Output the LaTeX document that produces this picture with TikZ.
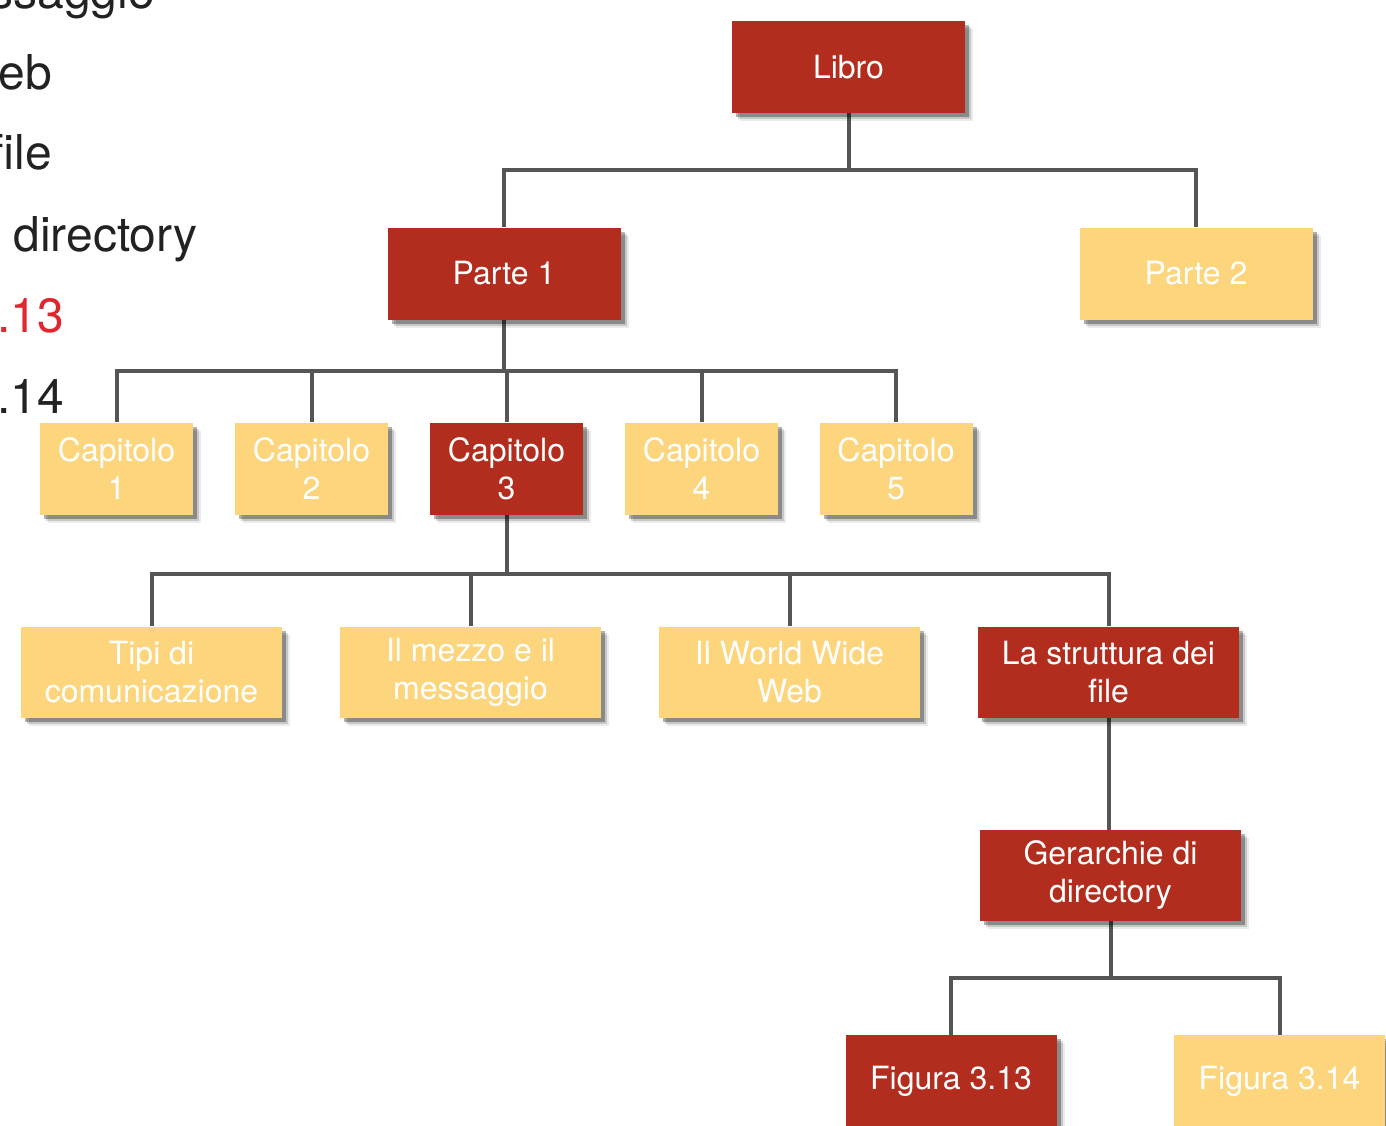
\documentclass[tikz,border=0pt]{standalone}
\usepackage{fontspec}
\setmainfont{TeX Gyre Heros}
\usetikzlibrary{shadows,backgrounds}
\definecolor{boxred}{HTML}{B22D1E}
\definecolor{boxyel}{HTML}{FCD57C}
\definecolor{conngray}{HTML}{555555}
\definecolor{sidered}{HTML}{E0262E}
\definecolor{sidetext}{HTML}{222222}
\begin{document}
\begin{tikzpicture}[x=1pt,y=-1pt,
  box/.style={minimum width=233pt,minimum height=92pt,inner sep=0pt,align=center,
    text=white,font=\fontsize{32}{38}\selectfont,
    drop shadow={shadow xshift=8pt,shadow yshift=-8pt,fill=black,opacity=0.08},
    drop shadow={shadow xshift=6pt,shadow yshift=-6pt,fill=black,opacity=0.15},
    drop shadow={shadow xshift=4pt,shadow yshift=-4pt,fill=black,opacity=0.3}},
  redbox/.style={box,fill=boxred},
  yelbox/.style={box,fill=boxyel},
  capbox/.style={minimum width=153pt},
  widebox/.style={minimum width=261pt,minimum height=91pt},
  figbox/.style={minimum width=211pt},
  conn/.style={draw=conngray,line width=4pt},
  side/.style={anchor=base east,inner sep=0pt,font=\fontsize{48}{58}\selectfont,text=sidetext}]
\useasboundingbox (0,0) rectangle (1386,1126);

% partially visible side list
\node[side] (s1) at (155,9) {messaggio};
\node[side] (s2) at (52,90) {Web};
\node[side] (s3) at (52,170) {file};
\node[side] (s4) at (198,251) {directory};
\node[side,text=sidered] (s5) at (64,332) {3.13};
\node[side] (s6) at (64,413) {3.14};

% boxes
\node[redbox] (libro) at (848.5,67) {Libro};
\node[redbox] (parte1) at (504,273.5) {Parte 1};
\node[yelbox] (parte2) at (1196,273.5) {Parte 2};
\node[yelbox,capbox] (cap1) at (116.5,468.5) {Capitolo\\1};
\node[yelbox,capbox] (cap2) at (311.5,468.5) {Capitolo\\2};
\node[redbox,capbox] (cap3) at (506.5,468.5) {Capitolo\\3};
\node[yelbox,capbox] (cap4) at (701.5,468.5) {Capitolo\\4};
\node[yelbox,capbox] (cap5) at (896,468.5) {Capitolo\\5};
\node[yelbox,widebox] (tipi) at (151.5,672) {Tipi di\\comunicazione};
\node[yelbox,widebox] (mezzo) at (470.5,672) {Il mezzo e il\\messaggio};
\node[yelbox,widebox] (www) at (789.5,672) {Il World Wide\\Web};
\node[redbox,widebox] (strutt) at (1108.5,672) {La struttura dei\\file};
\node[redbox,widebox] (gerarchie) at (1110.5,875.5) {Gerarchie di\\directory};
\node[redbox,figbox] (fig13) at (951,1081) {Figura 3.13};
\node[yelbox,figbox] (fig14) at (1279.5,1081) {Figura 3.14};

\begin{scope}[on background layer]
  \fill[white] (0,0) rectangle (1386,1126);
  \draw[conn] (libro.south) -- ++(0,57) -| (parte1.north);
  \draw[conn] (libro.south) -- ++(0,57) -| (parte2.north);
  \foreach \c in {cap1,cap2,cap3,cap4,cap5}
    \draw[conn] (parte1.south) -- ++(0,51) -| (\c.north);
  \foreach \c in {tipi,mezzo,www,strutt}
    \draw[conn] (cap3.south) -- ++(0,59) -| (\c.north);
  \draw[conn] (strutt.south) -- (strutt.south |- gerarchie.north);
  \draw[conn] (gerarchie.south) -- ++(0,56.5) -| (fig13.north);
  \draw[conn] (gerarchie.south) -- ++(0,56.5) -| (fig14.north);
\end{scope}
\end{tikzpicture}
\end{document}
